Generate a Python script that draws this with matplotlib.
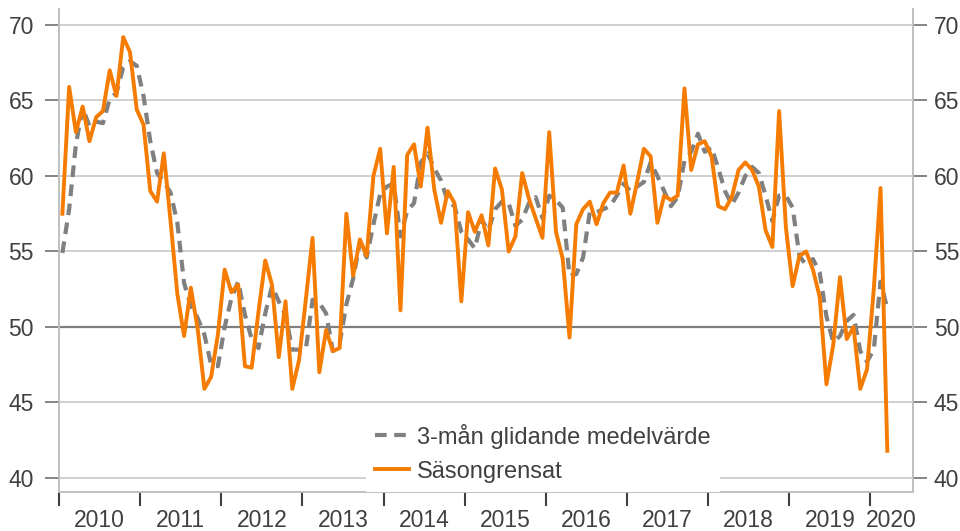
import numpy as np
import matplotlib.pyplot as plt

plt.rcParams['font.family'] = ['Liberation Sans', 'DejaVu Sans']

# månadsdata jan 2010 - mar 2020
sasongrensat = [57.5, 65.9, 62.9, 64.6, 62.3, 63.9, 64.3, 67.0, 65.3, 69.2, 68.2, 64.4,
                63.4, 59.0, 58.3, 61.5, 57.0, 52.2, 49.4, 52.6, 49.9, 45.9, 46.7, 49.5,
                53.8, 52.3, 52.8, 47.4, 47.3, 51.0, 54.4, 52.8, 48.0, 51.7, 45.9, 47.8,
                51.8, 55.9, 47.0, 49.8, 48.4, 48.6, 57.5, 53.4, 55.8, 54.7, 60.0, 61.8,
                56.2, 60.6, 51.1, 61.4, 62.1, 59.3, 63.2, 59.1, 56.9, 59.0, 58.2, 51.7,
                57.6, 56.3, 57.4, 55.4, 60.5, 59.1, 55.0, 56.0, 60.2, 58.5, 57.2, 55.9,
                62.9, 56.3, 54.5, 49.3, 56.8, 57.8, 58.3, 56.8, 58.2, 58.9, 58.9, 60.7,
                57.5, 59.6, 61.8, 61.3, 56.9, 58.7, 58.4, 58.7, 65.8, 60.4, 62.1, 62.3,
                61.3, 58.0, 57.8, 58.6, 60.4, 60.9, 60.4, 59.3, 56.4, 55.3, 64.3, 56.6,
                52.7, 54.7, 55.0, 53.8, 52.0, 46.2, 48.8, 53.3, 49.2, 50.0, 45.9, 47.2,
                52.5, 59.2, 41.8]

medel3 = [54.9, 57.8, 62.1, 64.5, 63.3, 63.6, 63.5, 65.1, 65.5, 67.2, 67.6, 67.3,
          65.3, 62.3, 60.2, 59.6, 58.9, 56.9, 52.9, 51.4, 50.6, 49.5, 47.5, 47.4,
          50.0, 51.9, 53.0, 50.8, 49.2, 48.6, 50.9, 52.7, 51.7, 50.8, 48.5, 48.5,
          48.5, 51.8, 51.6, 50.9, 48.4, 48.9, 51.5, 53.2, 55.6, 54.6, 56.8, 58.8,
          59.3, 59.5, 56.0, 57.7, 58.2, 60.9, 61.5, 60.5, 59.7, 58.3, 58.0, 56.3,
          55.8, 55.2, 57.1, 56.4, 57.8, 58.3, 58.2, 56.7, 57.1, 58.2, 58.6, 57.2,
          58.7, 58.4, 57.9, 53.4, 53.5, 54.6, 57.6, 57.6, 57.8, 58.0, 58.7, 59.5,
          59.0, 59.3, 59.6, 60.9, 60.0, 59.0, 58.0, 58.6, 61.0, 61.6, 62.8, 61.6,
          61.9, 60.5, 59.0, 58.1, 58.9, 60.0, 60.6, 60.2, 58.7, 57.0, 58.7, 58.7,
          57.9, 54.7, 54.1, 54.5, 53.6, 50.7, 49.0, 49.4, 50.4, 50.8, 48.4, 47.7,
          48.5, 53.0, 51.2]

ar = ['2010', '2011', '2012', '2013', '2014', '2015', '2016', '2017', '2018', '2019', '2020']
yticks = [40, 45, 50, 55, 60, 65, 70]

orange = '#F57C00'
gra = '#808080'
text = '#404040'
fs = 16.5

x = np.arange(len(sasongrensat)) + 0.5
xmax = 126.3

fig = plt.figure(figsize=(9.6, 5.31), dpi=100)
ax = fig.add_axes([59/960, 1-492/531, (913-59)/960, (492-9)/531])

for v in [40, 45, 55, 60, 65, 70]:
    ax.axhline(v, color='#c8c8c8', lw=1.2, zorder=1)
ax.axhline(50, color='#7f7f7f', lw=1.6, zorder=1)

ax.plot(x, medel3, color=gra, lw=3, dashes=(2.8, 1.8), label='3-mån glidande medelvärde', zorder=3)
ax.plot(x, sasongrensat, color=orange, lw=2.8, label='Säsongrensat', zorder=4)

ax.set_xlim(0, xmax)
ax.set_ylim(39.07, 71.06)

ax.set_xticks(np.arange(0, 121, 12))
ax.set_xticklabels([])
mid = [i * 12 + 6 for i in range(10)] + [(120 + xmax) / 2]
ax.set_xticks(mid, minor=True)
ax.set_xticklabels(ar, minor=True)
ax.tick_params(axis='x', which='major', length=10, width=1.5, color=text, direction='out')
ax.tick_params(axis='x', which='minor', length=0, pad=12, labelsize=fs, labelcolor=text)

ax.set_yticks(yticks)
ax.tick_params(axis='y', length=10, width=1.2, color='#707070',
               labelsize=fs, labelcolor=text, pad=8)

# höger axel
ax2 = ax.twinx()
ax2.set_ylim(ax.get_ylim())
ax2.set_yticks(yticks)
ax2.tick_params(axis='y', length=10, width=1.2, color='#707070',
                labelsize=fs, labelcolor=text, pad=5)

for a in [ax, ax2]:
    a.spines['top'].set_visible(False)
    for s in ['left', 'right', 'bottom']:
        a.spines[s].set_color('#c0c0c0')
        a.spines[s].set_linewidth(1.2)

leg = ax2.legend(*ax.get_legend_handles_labels(), loc='lower left',
                 bbox_to_anchor=(366/960, 1-492/531), bbox_transform=fig.transFigure,
                 borderaxespad=0, fontsize=17, handlelength=1.4, handletextpad=0.35,
                 frameon=True, framealpha=1, facecolor='white', edgecolor='none', fancybox=False)
for t in leg.get_texts():
    t.set_color(text)

fig.savefig('out.png', dpi=100)
